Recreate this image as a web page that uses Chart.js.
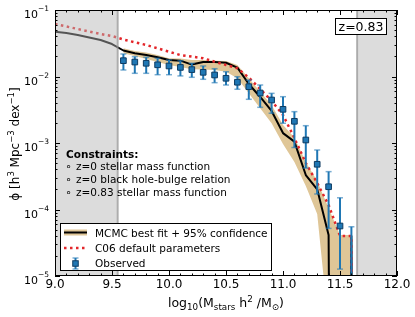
<!DOCTYPE html>
<html><head><meta charset="utf-8">
<script src="https://cdn.jsdelivr.net/npm/chart.js@4"></script>
<style>html,body{margin:0;padding:0;background:#fff}canvas{display:block}</style>
</head><body>
<canvas id="c" width="415" height="317" style="width:415px;height:317px"></canvas>
<script>
// ---------- data ----------
const massBins = [9.0,9.1,9.2,9.3,9.4,9.5,9.6,9.7,9.8,9.9,10.0,10.1,10.2,10.3,10.4,10.5,10.6,10.7,10.8,10.9,11.0,11.1,11.2,11.3,11.4,11.5,11.6,11.7];
const bestFit = [0.0472,0.0451,0.0421,0.0385,0.0354,0.0308,0.0246,0.0223,0.0210,0.0195,0.0177,0.0173,0.0151,0.0165,0.0165,0.0161,0.0136,0.00771,0.00492,0.00303,0.00141,0.00105,0.000330,0.000201,4.14e-5,1e-30,4.0e-5,1e-30];
const c06Default = [0.0615,0.0565,0.0518,0.0475,0.0436,0.0406,0.0360,0.0327,0.0298,0.0265,0.0236,0.0210,0.0199,0.0188,0.0167,0.0149,0.0133,0.00966,0.00649,0.00429,0.00264,0.00119,0.000500,0.000250,0.000117,4.0e-5,4.0e-5,1e-30];

const confMass = [9.6,9.7,9.8,9.9,10.0,10.1,10.2,10.3,10.4,10.5,10.6,10.7,10.8,10.9,11.0,11.1,11.2,11.3,11.4,11.5,11.6,11.7];
const confUpper = [0.0265,0.0242,0.0230,0.0210,0.0188,0.0187,0.0177,0.0177,0.0173,0.0171,0.0149,0.0094,0.0059,0.00372,0.00187,0.00121,0.000518,0.000269,0.000105,4.14e-5,4.14e-5,1e-30];
const confLower = [0.0223,0.0203,0.0183,0.0165,0.0149,0.0139,0.0128,0.0127,0.01253,0.0118,0.0094,0.00558,0.00333,0.00198,0.000966,0.000518,0.000225,8.55e-5,1.77e-6,1e-30,1e-30,1e-30];

const obsMass = [9.6,9.7,9.8,9.9,10.0,10.1,10.2,10.3,10.4,10.5,10.6,10.7,10.8,10.9,11.0,11.1,11.2,11.3,11.4,11.5,11.6];
const obsPhi = [0.0173,0.0165,0.0158,0.0150,0.0144,0.0137,0.0127,0.01156,0.01054,0.0094,0.0082,0.00703,0.00565,0.00443,0.00321,0.00212,0.00111,0.000479,0.00022,5.65e-5,5e-6];
const obsErrHigh = [0.0218,0.01986,0.01945,0.01879,0.0177,0.0173,0.0158,0.0144,0.0131,0.0118,0.00993,0.00885,0.00745,0.00558,0.00497,0.00296,0.00182,0.000785,0.000371,0.000150,5.5e-5];
const obsErrLow = [0.01253,0.01117,0.01117,0.01064,0.01064,0.0102,0.00973,0.00908,0.00807,0.00745,0.00643,0.00454,0.00344,0.0028,0.00198,0.000855,0.00042,0.000171,5.2e-5,1.27e-5,1e-7];

const xTicks = [9.0,9.5,10.0,10.5,11.0,11.5,12.0];
const yTicks = [1e-5,1e-4,1e-3,1e-2,1e-1];
const maskedRanges = [[9.0,9.55],[11.65,12.0]];
const legendLabels = ['MCMC best fit + 95% confidence','C06 default parameters','Observed'];
const constraintTitle = 'Constraints:';
const constraintItems = ['z=0 stellar mass function','z=0 black hole-bulge relation','z=0.83 stellar mass function'];
const redshiftLabel = 'z=0.83';

// ---------- styles ----------
const FONT = '"DejaVu Sans"';
const bandColor = '#dfc697';
const redColor = '#e3262a';
const blue = '#1f77b4';
Chart.defaults.font.family = FONT;
Chart.defaults.color = '#000';

function pts(xs, ys){ return xs.map((x,i)=>({x:x, y:ys[i]})); }

function rich(ctx, parts, x, y, align){
  let w = 0;
  parts.forEach(p=>{ ctx.font = (p.b?'bold ':'') + p.s + 'px ' + FONT; p.w = ctx.measureText(p.t).width; w += p.w; });
  let cx = align==='center' ? x - w/2 : (align==='right' ? x - w : x);
  ctx.textAlign = 'left'; ctx.textBaseline = 'alphabetic';
  parts.forEach(p=>{ ctx.font = (p.b?'bold ':'') + p.s + 'px ' + FONT; ctx.fillText(p.t, cx, y + (p.dy||0)); cx += p.w; });
}
function line(ctx,x0,y0,x1,y1){ ctx.beginPath(); ctx.moveTo(x0,y0); ctx.lineTo(x1,y1); ctx.stroke(); }
function square(ctx,x,y,s){ ctx.fillStyle = blue; ctx.strokeStyle = '#0e3b61'; ctx.lineWidth = 1; ctx.fillRect(x-s/2,y-s/2,s,s); ctx.strokeRect(x-s/2,y-s/2,s,s); }

const deco = {
  id: 'deco',
  beforeDatasetDraw(chart, args){
    if (args.index !== 0) return;
    const ctx = chart.ctx, a = chart.chartArea, xs = chart.scales.x, ys = chart.scales.y;
    ctx.save();
    ctx.beginPath(); ctx.rect(a.left, a.top, a.right-a.left, a.bottom-a.top); ctx.clip();
    obsMass.forEach((m,i)=>{
      const x = xs.getPixelForValue(m);
      const yT = ys.getPixelForValue(obsErrHigh[i]), yB = ys.getPixelForValue(obsErrLow[i]);
      ctx.strokeStyle = blue; ctx.lineWidth = 2;
      line(ctx,x,yT,x,yB);
      ctx.strokeStyle = 'rgba(31,119,180,0.6)'; ctx.lineWidth = 1.5;
      line(ctx,x-3,yT,x+3,yT); line(ctx,x-3,yB,x+3,yB);
    });
    ctx.restore();
  },
  afterDatasetsDraw(chart){
    const ctx = chart.ctx, a = chart.chartArea, xs = chart.scales.x;
    ctx.save();
    ctx.beginPath(); ctx.rect(a.left, a.top, a.right-a.left, a.bottom-a.top); ctx.clip();
    maskedRanges.forEach(r=>{
      const p0 = xs.getPixelForValue(r[0]), p1 = xs.getPixelForValue(r[1]);
      ctx.fillStyle = 'rgba(180,180,180,0.47)';
      ctx.fillRect(p0, a.top, p1-p0, a.bottom-a.top);
      ctx.strokeStyle = 'rgba(150,150,150,0.7)'; ctx.lineWidth = 2;
      [p0,p1].forEach(p=>{ if (p > a.left+1 && p < a.right-1) line(ctx,p,a.top,p,a.bottom); });
    });
    ctx.restore();
  },
  afterDraw(chart){
    const ctx = chart.ctx, a = chart.chartArea, xs = chart.scales.x, ys = chart.scales.y;
    ctx.save();
    // frame
    ctx.strokeStyle = '#000'; ctx.lineWidth = 1;
    ctx.strokeRect(a.left+0.5, a.top+0.5, a.right-a.left-1, a.bottom-a.top-1);
    // x ticks (inward, top & bottom)
    for (let k = 0; k <= 30; k++){
      const v = 9 + k*0.1;
      const major = (k % 5 === 0);
      const len = major ? 5 : 2.5;
      const p = Math.round(xs.getPixelForValue(v)) + 0.5;
      line(ctx,p,a.bottom,p,a.bottom-len);
      line(ctx,p,a.top,p,a.top+len);
    }
    // y ticks
    for (let d = -5; d <= -1; d++){
      for (let m = 1; m <= 9; m++){
        const v = m*Math.pow(10,d);
        if (v > 0.1000001) break;
        const len = (m===1) ? 5 : 2.5;
        const p = Math.round(ys.getPixelForValue(v)) + 0.5;
        line(ctx,a.left,p,a.left+len,p);
        line(ctx,a.right,p,a.right-len,p);
      }
    }
    // y tick labels
    ctx.fillStyle = '#000';
    yTicks.forEach(v=>{
      const e = Math.round(Math.log10(v));
      const y = ys.getPixelForValue(v);
      rich(ctx,[{t:'10',s:11},{t:'\u2212'+(-e),s:7.5,dy:-7}], a.left-6, y+8, 'right');
    });
    // y title
    ctx.save();
    ctx.translate(18.5, (a.top+a.bottom)/2+1);
    ctx.rotate(-Math.PI/2);
    rich(ctx,[{t:'\u03d5 [h',s:12},{t:'3',s:8.5,dy:-5},{t:' Mpc',s:12},{t:'\u22123',s:8.5,dy:-5},{t:' dex',s:12},{t:'\u22121',s:8.5,dy:-5},{t:']',s:12}],0,0,'center');
    ctx.restore();
    // x title
    rich(ctx,[{t:'log',s:12.5},{t:'10',s:8.75,dy:3},{t:'(M',s:12.5},{t:'stars',s:8.75,dy:3},{t:' h',s:12.5},{t:'2',s:8.75,dy:-5},{t:' /M',s:12.5},{t:'\u2299',s:8.75,dy:3},{t:')',s:12.5}],(a.left+a.right)/2,306.5,'center');
    // constraints text
    rich(ctx,[{t:constraintTitle,s:10.5,b:true}],66,158.3,'left');
    constraintItems.forEach((t,i)=>{
      const by = 170.3 + i*12.7;
      rich(ctx,[{t:'\u2218',s:10.5}],65.5,by,'left');
      rich(ctx,[{t:t,s:10.5}],76,by,'left');
    });
    // redshift box
    ctx.fillStyle = '#fff'; ctx.fillRect(335.5,18.5,51,16);
    ctx.strokeStyle = '#000'; ctx.lineWidth = 1; ctx.strokeRect(335.5,18.5,51,16);
    ctx.fillStyle = '#000';
    rich(ctx,[{t:redshiftLabel,s:12.5}],361,31,'center');
    // legend
    ctx.fillStyle = '#fff'; ctx.fillRect(60.5,223.5,211,47);
    ctx.strokeStyle = '#000'; ctx.lineWidth = 1; ctx.strokeRect(60.5,223.5,211,47);
    // handle 1
    ctx.fillStyle = bandColor; ctx.fillRect(64,229.5,23,6);
    ctx.strokeStyle = '#000'; ctx.lineWidth = 2; line(ctx,64,232.5,87,232.5);
    // handle 2
    ctx.save(); ctx.strokeStyle = redColor; ctx.lineWidth = 2.5; ctx.setLineDash([2.5,3.5]);
    line(ctx,64,248,87,248); ctx.restore();
    // handle 3
    ctx.strokeStyle = blue; ctx.lineWidth = 2; line(ctx,75.5,258,75.5,269);
    ctx.strokeStyle = 'rgba(31,119,180,0.6)'; ctx.lineWidth = 1.5;
    line(ctx,72.5,258,78.5,258); line(ctx,72.5,269,78.5,269);
    square(ctx,75.5,263.5,5.5);
    ctx.fillStyle = '#000';
    legendLabels.forEach((t,i)=>{ rich(ctx,[{t:t,s:10.5}],95,236.5+i*15,'left'); });
    ctx.restore();
  }
};

new Chart(document.getElementById('c'), {
  type: 'line',
  data: {
    datasets: [
      { label: 'Observed', data: pts(obsMass, obsPhi), showLine: false, pointStyle: 'rect', pointRadius: 4,
        pointBackgroundColor: blue, pointBorderColor: '#0e3b61', pointBorderWidth: 1, borderColor: blue, order: 1 },
      { label: 'C06 default parameters', data: pts(massBins, c06Default), borderColor: redColor, borderWidth: 2.5,
        borderDash: [2.5,3.5], borderCapStyle: 'butt', pointRadius: 0, fill: false, tension: 0, order: 2 },
      { label: 'MCMC best fit', data: pts(massBins, bestFit), borderColor: '#000', borderWidth: 2,
        borderJoinStyle: 'round', pointRadius: 0, fill: false, tension: 0, order: 3 },
      { label: '95% upper', data: pts(confMass, confUpper), borderColor: 'rgba(0,0,0,0)', borderWidth: 0,
        pointRadius: 0, fill: '+1', backgroundColor: bandColor, tension: 0, order: 4 },
      { label: '95% lower', data: pts(confMass, confLower), borderColor: 'rgba(0,0,0,0)', borderWidth: 0,
        pointRadius: 0, fill: false, tension: 0, order: 5 }
    ]
  },
  options: {
    responsive: false, animation: false, events: [],
    layout: { padding: { top: 10, right: 18, left: 0, bottom: 0 } },
    plugins: { legend: { display: false }, tooltip: { enabled: false } },
    scales: {
      x: { type: 'linear', min: 9, max: 12,
        grid: { display: false, drawTicks: false }, border: { display: false },
        afterBuildTicks: s => { s.ticks = xTicks.map(v => ({ value: v })); },
        ticks: { callback: v => Number(v).toFixed(1), font: { family: FONT, size: 12 }, color: '#000', padding: 2, maxRotation: 0, autoSkip: false },
        afterFit: s => { s.height = 41; } },
      y: { type: 'logarithmic', min: 1e-5, max: 1e-1,
        grid: { display: false, drawTicks: false }, border: { display: false },
        afterBuildTicks: s => { s.ticks = yTicks.map(v => ({ value: v })); },
        ticks: { display: false },
        afterFit: s => { s.width = 55; } }
    }
  },
  plugins: [deco]
});
</script>
</body></html>
